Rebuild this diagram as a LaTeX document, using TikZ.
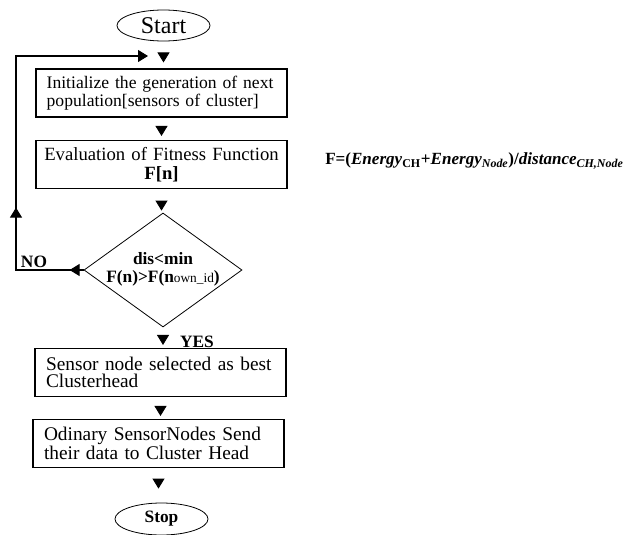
\documentclass[tikz,border=0pt]{standalone}
\usepackage{fontspec}
\setmainfont{Liberation Serif}
\usetikzlibrary{
    arrows.meta,
    calc,
    decorations.markings,
    shapes.geometric
}
\newcommand{\fitnesseq}{\textbf{F=(\textit{Energy}\textsubscript{CH}+\textit{Energy}\textsubscript{\textit{Node}})/\textit{distance}\textsubscript{\textit{CH,Node}}}}
\tikzset{
    % Box styles
    step box/.style={
        draw,
        rectangle,
        line width=0.8pt,
        minimum width=188.25pt,
        minimum height=36pt,
        text width=176pt,
        inner xsep=6pt,
        inner ysep=0pt,
        align=left,
        font=\fontsize{13.5pt}{13.5pt}\selectfont
    },
    term node/.style={
        draw,
        ellipse,
        line width=0.6pt,
        minimum width=69.75pt,
        minimum height=23.25pt,
        inner sep=0pt
    },
    decision node/.style={
        draw,
        diamond,
        line width=0.6pt,
        minimum width=118.5pt,
        minimum height=85.5pt,
        inner sep=0pt
    },
    flag text/.style={
        font=\fontsize{13pt}{13pt}\selectfont\bfseries,
        inner sep=0pt
    },
    % Arrow styles
    tip arrow/.style={
        -{Triangle[width=9pt,length=7.5pt]},
        line width=0.6pt
    },
    loop line/.style={
        -{Triangle[width=9pt,length=7.5pt]},
        line width=0.8pt
    }
}

\begin{document}
\begin{tikzpicture}[x=0.75pt, y=-0.75pt]
        \useasboundingbox (0,0) rectangle (635,535);

        % Flow nodes
        \node[term node, font=\fontsize{18pt}{18pt}\selectfont] (start) at (163.5,25.5) {Start};
        \node[step box, inner xsep=8pt, text width=172.25pt, font=\fontsize{13.2pt}{13.5pt}\selectfont] (init) at (161.5,93) {Initialize the generation of next\\population[sensors of cluster]};
        \node[step box, align=center, inner xsep=3pt, text width=182pt, font=\fontsize{14pt}{14pt}\selectfont] (eval) at (161.5,164.5) {Evaluation of Fitness Function\\\textbf{F[n]}};
        \node[decision node, label={[yshift=0.5pt, align=center, font=\fontsize{13pt}{13pt}\selectfont\bfseries]center:{dis<min\\F(n)>F(n{\mdseries\fontsize{10pt}{10pt}\selectfont own\_id})}}] (dec) at (163,270) {};
        \node[step box, inner xsep=8.25pt, text width=171.75pt, font=\fontsize{14.5pt}{13pt}\selectfont] (best) at (160.5,372.5) {Sensor node selected as best\\Clusterhead};
        \node[step box, inner xsep=8.25pt, text width=171.75pt, font=\fontsize{14.5pt}{13pt}\selectfont] (send) at (158.5,443.5) {Odinary SensorNodes Send\\their data to Cluster Head};
        \node[term node, minimum height=24pt, font=\fontsize{13pt}{13pt}\selectfont\bfseries] (stop) at (161.5,519) {Stop};

        % Connections
        \foreach \from/\to/\s/\e in {start/init/9pt/4.5pt, init/eval/7.5pt/3pt, eval/dec/9pt/1.5pt, dec/best/7.5pt/2.25pt, best/send/8.25pt/2.25pt, send/stop/8.25pt/10.5pt} {
            \draw[tip arrow, shorten <=\s, shorten >=\e] (\from.south) -- (\from.south |- \to.north);
        }

        % Loop back
        \coordinate (corner) at (16,56);
        \coordinate (back) at (148,56);
        \draw[loop line, postaction={decorate}, decoration={markings,
                mark=at position 10.5pt with {\arrow{Triangle[width=9pt,length=7.5pt]}},
                mark=at position 97.5pt with {\arrow{Triangle[width=9pt,length=7.5pt]}}}]
            (dec.west) -| (corner) -- (back);

        % Annotations
        \node[flag text] (no) at (34,262) {NO};
        \node[flag text] (yes) at (197,342) {YES};
        \node[anchor=west, inner sep=0pt, font=\fontsize{12.8pt}{12.8pt}\selectfont] (fitness) at (325,161) {\fitnesseq};
    \end{tikzpicture}
\end{document}
